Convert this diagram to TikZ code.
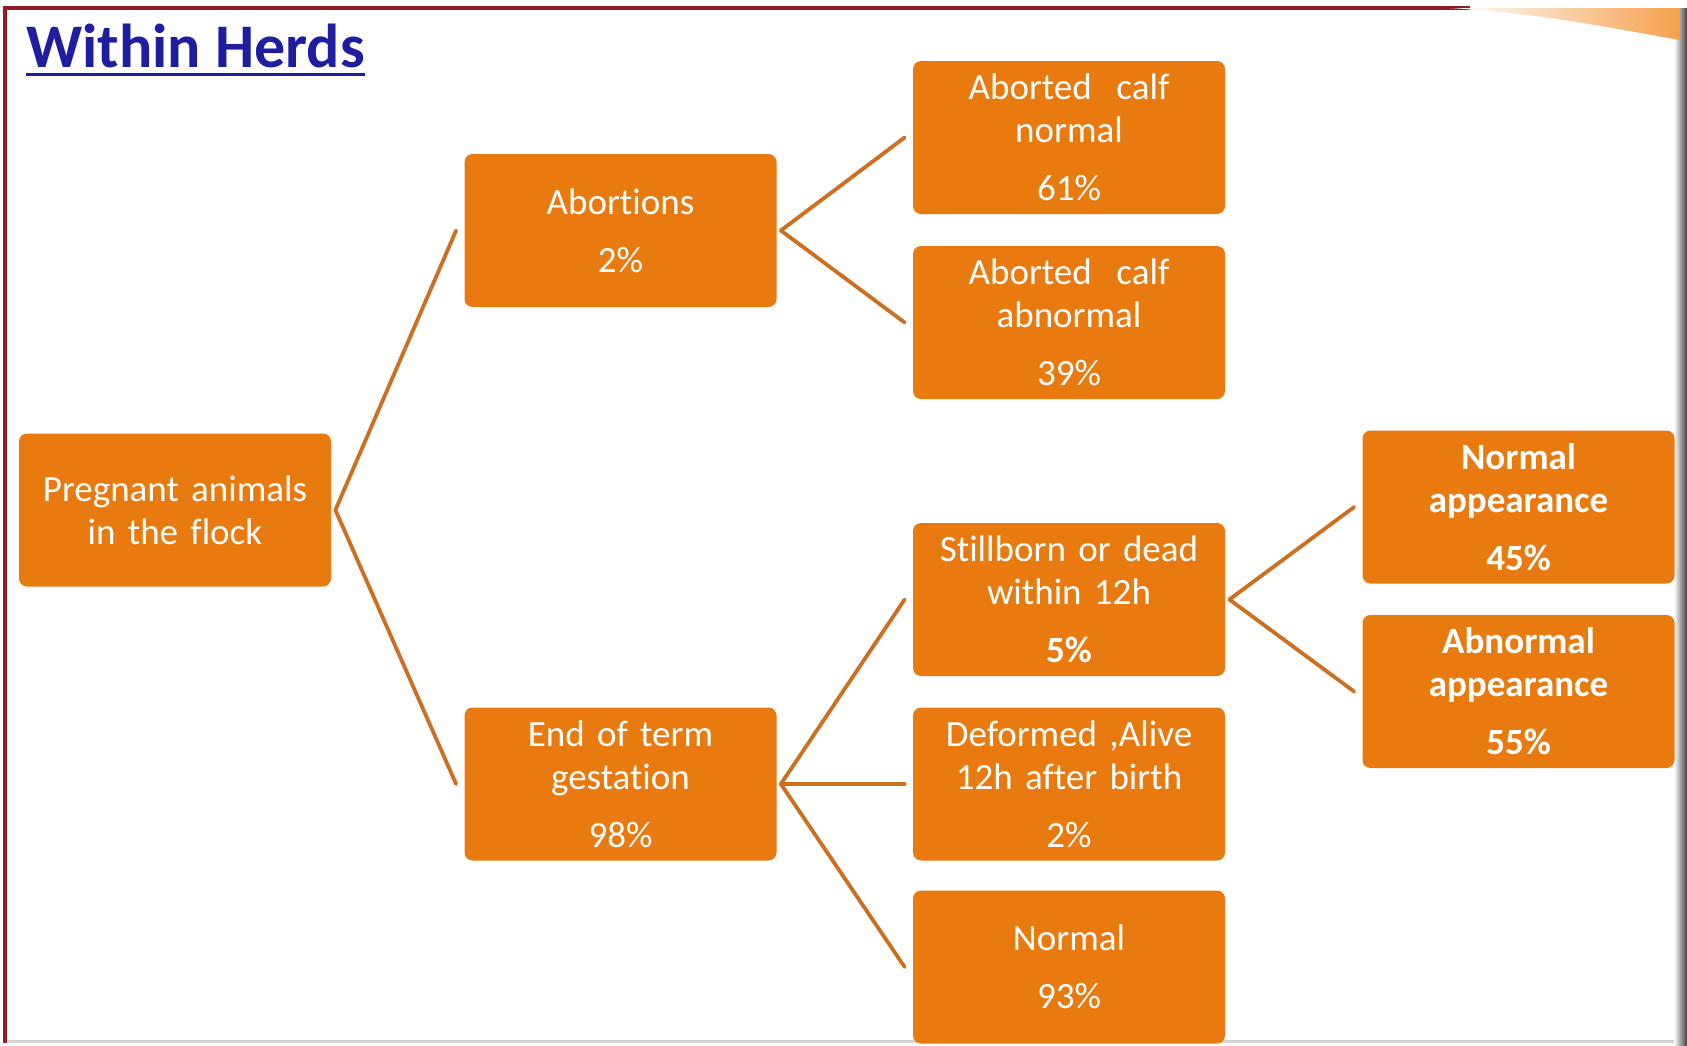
\documentclass[tikz,border=0pt]{standalone}
\usepackage{fontspec}
\setmainfont{Carlito}[Ligatures=NoCommon,Contextuals=NoAlternate]
\usetikzlibrary{calc}
\definecolor{boxorange}{RGB}{233,122,16}
\definecolor{lineorange}{RGB}{208,110,32}
\definecolor{titleblue}{RGB}{32,30,160}
\definecolor{framered}{RGB}{150,25,40}
\definecolor{swoosh}{RGB}{246,160,78}
\tikzstyle{block}=[rectangle,rounded corners=4pt,fill=boxorange,text=white,minimum width=156pt,minimum height=76.5pt,inner sep=0pt,text width=150pt,align=center,font=\fontsize{18.5}{21.5}\selectfont]
\tikzstyle{edge} = [draw,line width=1.9pt,lineorange,line cap=round]
\tikzstyle{heading} = [anchor=base west,inner sep=0pt,text=titleblue,font=\fontsize{31}{33}\selectfont\bfseries]

\begin{document}
\begin{tikzpicture}[x=0.5pt,y=-0.5pt]
    \useasboundingbox (0,0) rectangle (1687,1045);
    % Slide frame
    \shade[left color=white,right color=black!75] (1674,8) rectangle (1687,1045);
    \draw[gray!35,line width=1.5pt] (6,1041) -- (1674,1041);
    \draw[framered,line width=1.6pt] (5,1043) -- (5,8) -- (1470,8);
    \shade[left color=white,right color=swoosh] (1450,8) .. controls (1550,14) and (1620,30) .. (1680,40) -- (1680,8) -- cycle;

    % Title
    \node[heading] (title) at (26,67) {Within Herds};
    \draw[titleblue,line width=1.5pt] ([yshift=-3.5pt]title.base west) -- ([yshift=-3.5pt]title.base east);

    % First we draw the boxes
    \foreach \pos/\name/\txt in {{(175,510)/root/{Pregnant animals\\in the flock}},
        {(620.5,230.5)/abort/{Abortions\\[7.5pt]2\%}},
        {(620.5,784)/endterm/{End of term\\gestation\\[7.5pt]98\%}},
        {(1069,137.5)/calfnormal/{Aborted\ \ calf\\normal\\[7.5pt]61\%}},
        {(1069,322.5)/calfabnormal/{Aborted\ \ calf\\abnormal\\[7.5pt]39\%}},
        {(1069,599.5)/stillborn/{Stillborn or dead\\within 12h\\[7.5pt]\textbf{5\%}}},
        {(1069,784)/deformed/{Deformed ,Alive\\12h after birth\\[7.5pt]2\%}},
        {(1069,967)/normal/{Normal\\[7.5pt]93\%}},
        {(1518.5,507)/normapp/{\textbf{Normal}\\\textbf{appearance}\\[7.5pt]\textbf{45\%}}},
        {(1518.5,691.5)/abnormapp/{\textbf{Abnormal}\\\textbf{appearance}\\[7.5pt]\textbf{55\%}}}}
        \node[block] (\name) at \pos {\txt};

    % Connect boxes with lines
    \foreach \source/\dest in {root/abort, root/endterm, abort/calfnormal, abort/calfabnormal,
        endterm/stillborn, endterm/deformed, endterm/normal, stillborn/normapp, stillborn/abnormapp}
        \path[edge] ([xshift=2pt]\source.east) -- ([xshift=-4pt]\dest.west);
\end{tikzpicture}
\end{document}
